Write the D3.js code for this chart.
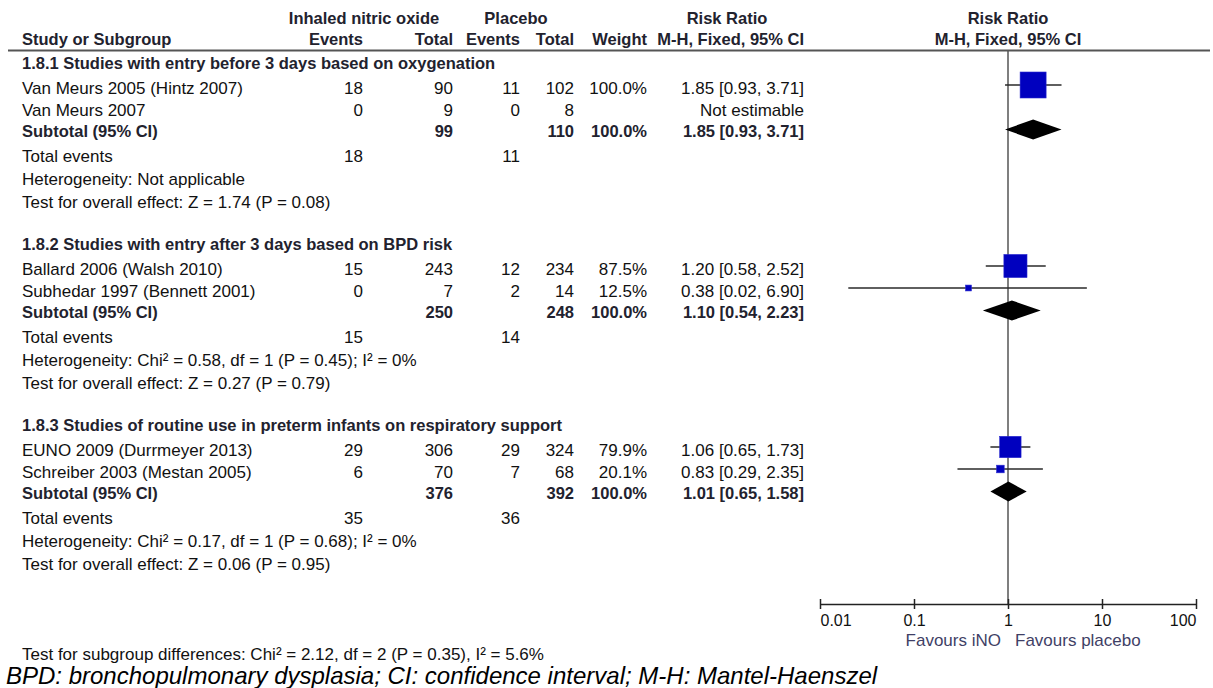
<!DOCTYPE html>
<html>
<head>
<meta charset="utf-8">
<script src="https://cdn.jsdelivr.net/npm/d3@7"></script>
<style>
  html, body { margin: 0; padding: 0; background: #fff; }
  svg { display: block; }
  text { font-family: "Liberation Sans", Arial, sans-serif; }
</style>
</head>
<body>
<svg id="chart" width="1213" height="688"></svg>
<script>
// ---------------- DATA ----------------
const groupTitles = [
  "1.8.1 Studies with entry before 3 days based on oxygenation",
  "1.8.2 Studies with entry after 3 days based on BPD risk",
  "1.8.3 Studies of routine use in preterm infants on respiratory support"
];
const studyNames = [
  "Van Meurs 2005 (Hintz 2007)", "Van Meurs 2007",
  "Ballard 2006 (Walsh 2010)", "Subhedar 1997 (Bennett 2001)",
  "EUNO 2009 (Durrmeyer 2013)", "Schreiber 2003 (Mestan 2005)"
];
const studyGroup = [0, 0, 1, 1, 2, 2];
const inoEvents = [18, 0, 15, 0, 29, 6];
const inoTotal = [90, 9, 243, 7, 306, 70];
const plEvents = [11, 0, 12, 2, 29, 7];
const plTotal = [102, 8, 234, 14, 324, 68];
const weightPct = [100.0, null, 87.5, 12.5, 79.9, 20.1];
const rr = [1.85, null, 1.20, 0.38, 1.06, 0.83];
const rrLow = [0.93, null, 0.58, 0.02, 0.65, 0.29];
const rrHigh = [3.71, null, 2.52, 6.90, 1.73, 2.35];

const subInoTotal = [99, 250, 376];
const subPlTotal = [110, 248, 392];
const subWeight = [100.0, 100.0, 100.0];
const subRR = [1.85, 1.10, 1.01];
const subLow = [0.93, 0.54, 0.65];
const subHigh = [3.71, 2.23, 1.58];
const totalEventsIno = [18, 15, 35];
const totalEventsPl = [11, 14, 36];
const heterogeneity = [
  "Heterogeneity: Not applicable",
  "Heterogeneity: Chi\u00B2 = 0.58, df = 1 (P = 0.45); I\u00B2 = 0%",
  "Heterogeneity: Chi\u00B2 = 0.17, df = 1 (P = 0.68); I\u00B2 = 0%"
];
const overallEffect = [
  "Test for overall effect: Z = 1.74 (P = 0.08)",
  "Test for overall effect: Z = 0.27 (P = 0.79)",
  "Test for overall effect: Z = 0.06 (P = 0.95)"
];
const axisTicks = [0.01, 0.1, 1, 10, 100];
const axisTickLabels = ["0.01", "0.1", "1", "10", "100"];
const favoursLeft = "Favours iNO";
const favoursRight = "Favours placebo";
const subgroupTest = "Test for subgroup differences: Chi\u00B2 = 2.12, df = 2 (P = 0.35), I\u00B2 = 5.6%";
const footnote = "BPD: bronchopulmonary dysplasia; CI: confidence interval; M-H: Mantel-Haenszel";

// ---------------- LAYOUT ----------------
const svg = d3.select("#chart");
const NORMAL = "#111";
const BOLD = "#22222e";
const fsN = 17, fsB = 16.5;
const base = 6; // baseline offset from text centre

const x = d3.scaleLog().domain([0.01, 100]).range([820, 1196]);
const sizeScale = d3.scaleLinear().domain([0, 100]).range([3, 26]);

// columns (right edges)
const colX = { ie: 363, it: 453, pe: 520, pt: 574, w: 647, rr: 804 };
const leftX = 22;

const groupTop = g => 62.5 + 181 * g;
const rowOff = [0, 25.5, 47.5, 68, 93.5, 116, 139];

const fmt2 = d3.format(".2f");
const fmtW = d3.format(".1f");
const ciText = (m, l, h) => `${fmt2(m)} [${fmt2(l)}, ${fmt2(h)}]`;

function txt(xp, yc, s, opts = {}) {
  return svg.append("text")
    .attr("x", xp).attr("y", yc + base)
    .attr("text-anchor", opts.anchor || "start")
    .attr("font-size", opts.size || (opts.bold ? fsB : fsN))
    .attr("font-weight", opts.bold ? "bold" : "normal")
    .attr("font-style", opts.italic ? "italic" : "normal")
    .attr("fill", opts.fill || (opts.bold ? BOLD : NORMAL))
    .text(s);
}

// ---------------- HEADER ----------------
txt(364, 18, "Inhaled nitric oxide", { bold: true, anchor: "middle" });
txt(516, 18, "Placebo", { bold: true, anchor: "middle" });
txt(727, 18, "Risk Ratio", { bold: true, anchor: "middle" });
txt(1008, 18, "Risk Ratio", { bold: true, anchor: "middle" });
txt(leftX, 39, "Study or Subgroup", { bold: true });
txt(colX.ie, 39, "Events", { bold: true, anchor: "end" });
txt(colX.it, 39, "Total", { bold: true, anchor: "end" });
txt(colX.pe, 39, "Events", { bold: true, anchor: "end" });
txt(colX.pt, 39, "Total", { bold: true, anchor: "end" });
txt(colX.w, 39, "Weight", { bold: true, anchor: "end" });
txt(colX.rr, 39, "M-H, Fixed, 95% CI", { bold: true, anchor: "end" });
txt(1008, 39, "M-H, Fixed, 95% CI", { bold: true, anchor: "middle" });

svg.append("line").attr("x1", 8).attr("x2", 1210).attr("y1", 50.5).attr("y2", 50.5)
  .attr("stroke", "#555").attr("stroke-width", 2);

// null line
svg.append("line").attr("x1", x(1)).attr("x2", x(1)).attr("y1", 51).attr("y2", 604)
  .attr("stroke", "#555").attr("stroke-width", 1.5);

// ---------------- GROUPS ----------------
groupTitles.forEach((title, g) => {
  const T = groupTop(g);
  txt(leftX, T, title, { bold: true });
  const idx = studyGroup.map((v, i) => v === g ? i : -1).filter(i => i >= 0);
  idx.forEach((i, k) => {
    const yc = T + rowOff[1 + k];
    txt(leftX, yc, studyNames[i]);
    txt(colX.ie, yc, inoEvents[i], { anchor: "end" });
    txt(colX.it, yc, inoTotal[i], { anchor: "end" });
    txt(colX.pe, yc, plEvents[i], { anchor: "end" });
    txt(colX.pt, yc, plTotal[i], { anchor: "end" });
    if (weightPct[i] != null) txt(colX.w, yc, fmtW(weightPct[i]) + "%", { anchor: "end" });
    if (rr[i] != null) {
      txt(colX.rr, yc, ciText(rr[i], rrLow[i], rrHigh[i]), { anchor: "end" });
      const ym = yc - 3;
      svg.append("line").attr("x1", x(rrLow[i])).attr("x2", x(rrHigh[i]))
        .attr("y1", ym).attr("y2", ym).attr("stroke", "#2a2a2a").attr("stroke-width", 1.5);
      const s = sizeScale(weightPct[i]);
      svg.append("rect").attr("x", x(rr[i]) - s / 2).attr("y", ym - s / 2)
        .attr("width", s).attr("height", s)
        .attr("fill", "#0000bf").attr("stroke", "#2a2ad0").attr("stroke-width", 0.6);
    } else {
      txt(colX.rr, yc, "Not estimable", { anchor: "end" });
    }
  });
  // subtotal
  const ys = T + rowOff[3];
  txt(leftX, ys, "Subtotal (95% CI)", { bold: true });
  txt(colX.it, ys, subInoTotal[g], { bold: true, anchor: "end" });
  txt(colX.pt, ys, subPlTotal[g], { bold: true, anchor: "end" });
  txt(colX.w, ys, fmtW(subWeight[g]) + "%", { bold: true, anchor: "end" });
  txt(colX.rr, ys, ciText(subRR[g], subLow[g], subHigh[g]), { bold: true, anchor: "end" });
  const yd = ys - 1, hd = 10;
  svg.append("path")
    .attr("d", `M${x(subLow[g])},${yd} L${x(subRR[g])},${yd - hd} L${x(subHigh[g])},${yd} L${x(subRR[g])},${yd + hd} Z`)
    .attr("fill", "#000");
  // totals
  const yt = T + rowOff[4];
  txt(leftX, yt, "Total events");
  txt(colX.ie, yt, totalEventsIno[g], { anchor: "end" });
  txt(colX.pe, yt, totalEventsPl[g], { anchor: "end" });
  txt(leftX, T + rowOff[5], heterogeneity[g]);
  txt(leftX, T + rowOff[6], overallEffect[g]);
});

// ---------------- AXIS ----------------
const axisY = 604;
const axis = d3.axisBottom(x).tickValues(axisTicks)
  .tickFormat((d, i) => axisTickLabels[i]).tickSizeOuter(0).tickSizeInner(5);
const ag = svg.append("g").attr("transform", `translate(0,${axisY})`).call(axis);
ag.select(".domain").attr("stroke", "#222").attr("stroke-width", 1.5);
ag.selectAll(".tick line").attr("y1", -5).attr("y2", 5).attr("stroke", "#222").attr("stroke-width", 1.5);
ag.selectAll(".tick text")
  .attr("y", 16 + base - 0).attr("dy", null)
  .attr("font-size", 16).attr("fill", NORMAL)
  .attr("font-family", "Liberation Sans, Arial, sans-serif")
  .attr("text-anchor", (d, i) => i === 0 ? "start" : (i === axisTicks.length - 1 ? "end" : "middle"));

txt(x(1) - 7, 640, favoursLeft, { anchor: "end", fill: "#3f3f66" });
txt(x(1) + 7, 640, favoursRight, { anchor: "start", fill: "#3f3f66" });

// ---------------- FOOTER ----------------
txt(leftX, 654, subgroupTest);
svg.append("text").attr("x", 6).attr("y", 684)
  .attr("font-size", 24).attr("font-style", "italic").attr("fill", "#000")
  .text(footnote);
</script>
</body>
</html>
